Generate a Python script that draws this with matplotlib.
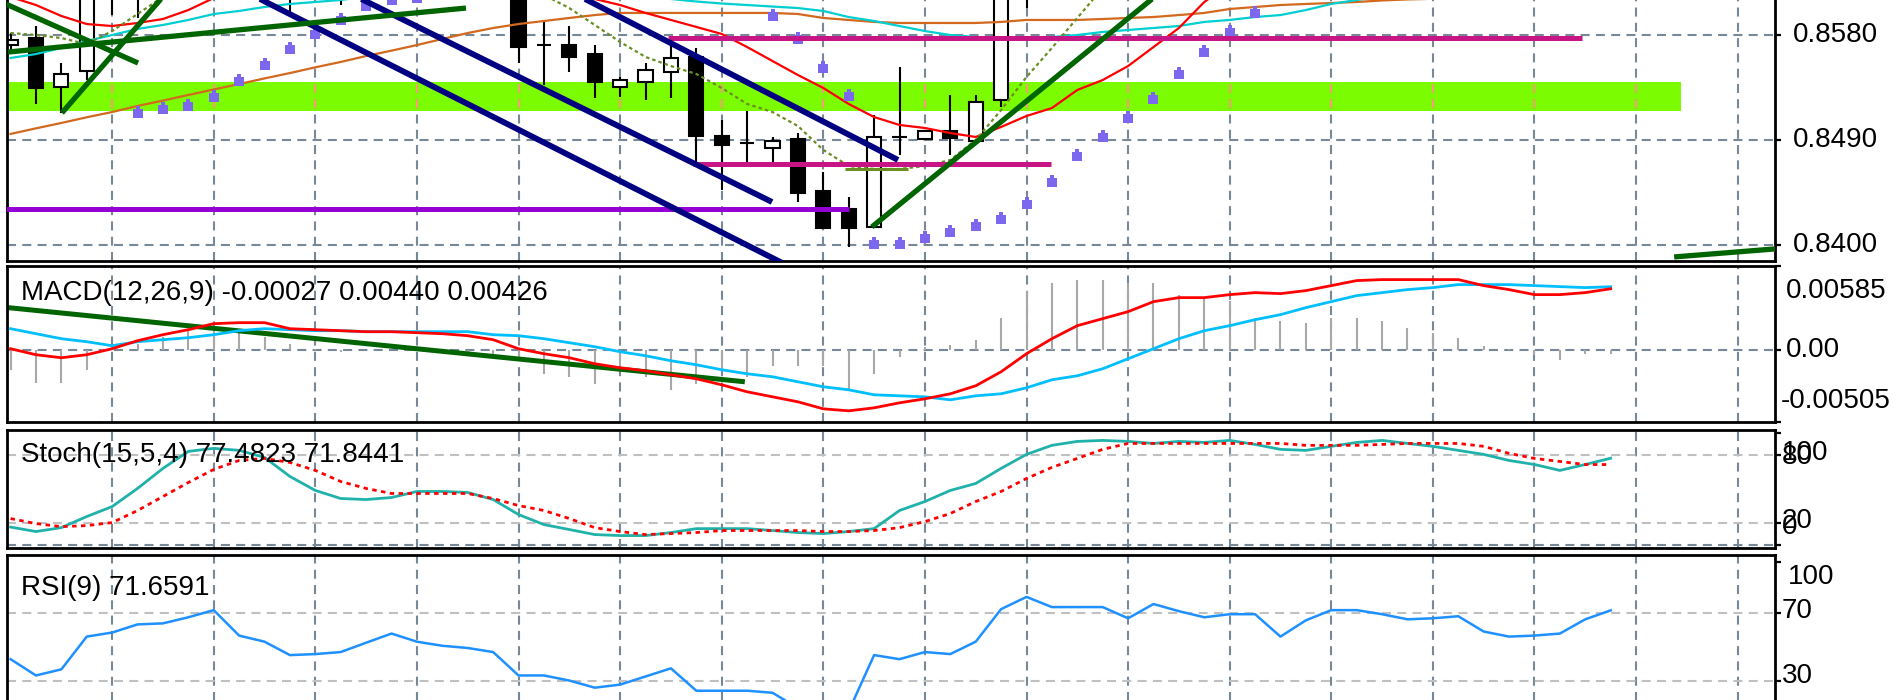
import numpy as np
import matplotlib
matplotlib.use("Agg")
import matplotlib.pyplot as plt
from matplotlib.patches import Rectangle
from matplotlib.path import Path

plt.rcParams['lines.scale_dashes'] = False
plt.rcParams['font.family'] = ['Liberation Sans', 'DejaVu Sans']

# ------------------------------------------------------------------ data
bar_index = list(range(64))

opens = [0.85714, 0.85774, 0.85354, 0.85492, 0.8628, 0.8638, 0.8645, 0.8652, 0.8660, 0.8655,
         0.8662, 0.8650, 0.8640, 0.8648, 0.8638, 0.8645, 0.8650, 0.8642, 0.8636, 0.8640,
         0.8630, 0.85714, 0.85714, 0.85637, 0.85354, 0.85397, 0.85483, 0.85612, 0.84935, 0.84875,
         0.84832, 0.84909, 0.84463, 0.84309, 0.84155, 0.84926, 0.84909, 0.84977, 0.84890, 0.85243,
         0.8628, 0.8640, 0.8652, 0.8660, 0.8668, 0.8672, 0.8680, 0.8688, 0.8692, 0.8700,
         0.8705, 0.8698, 0.8706, 0.8712, 0.8718, 0.8715, 0.8712, 0.8716, 0.8710, 0.8704,
         0.8700, 0.8702, 0.8698, 0.8706]
highs = [0.85817, 0.85877, 0.85560, 0.8635, 0.8648, 0.8655, 0.8660, 0.8668, 0.8672, 0.8675,
         0.8678, 0.8665, 0.8660, 0.8660, 0.8658, 0.8662, 0.8660, 0.8655, 0.8652, 0.8650,
         0.8640, 0.85929, 0.85877, 0.85714, 0.85440, 0.85560, 0.85714, 0.85689, 0.85072, 0.85149,
         0.84926, 0.84960, 0.84629, 0.84412, 0.85115, 0.85526, 0.84986, 0.85286, 0.85286, 0.8635,
         0.8650, 0.8660, 0.8666, 0.8674, 0.8678, 0.8686, 0.8694, 0.8698, 0.8706, 0.8711,
         0.8710, 0.8712, 0.8718, 0.8724, 0.8722, 0.8720, 0.8721, 0.8720, 0.8714, 0.8709,
         0.8707, 0.8706, 0.8711, 0.8717]
lows = [0.85672, 0.85209, 0.85132, 0.85414, 0.85971, 0.85946, 0.8625, 0.8635, 0.8640, 0.8638,
        0.8630, 0.85971, 0.8622, 0.86057, 0.8625, 0.8630, 0.8628, 0.8620, 0.8622, 0.8615,
        0.85560, 0.85372, 0.85483, 0.85260, 0.85269, 0.85243, 0.85260, 0.84703, 0.84472, 0.84703,
        0.84712, 0.84369, 0.84146, 0.83983, 0.84155, 0.84772, 0.84909, 0.84772, 0.84890, 0.85183,
        0.86031, 0.8625, 0.8645, 0.8652, 0.8660, 0.8665, 0.8672, 0.8680, 0.8685, 0.8692,
        0.8690, 0.8692, 0.8700, 0.8706, 0.8708, 0.8706, 0.8705, 0.8704, 0.8698, 0.8694,
        0.8693, 0.8691, 0.8692, 0.8700]
closes = [0.85757, 0.85346, 0.85466, 0.8628, 0.8638, 0.8645, 0.8652, 0.8660, 0.8655, 0.8662,
          0.8650, 0.8640, 0.8648, 0.8638, 0.8645, 0.8650, 0.8642, 0.8636, 0.8640, 0.8630,
          0.85697, 0.85714, 0.85612, 0.85397, 0.85414, 0.85500, 0.85603, 0.84935, 0.84857, 0.84875,
          0.84892, 0.84446, 0.84146, 0.84146, 0.84926, 0.84926, 0.84977, 0.84917, 0.85226, 0.8628,
          0.8640, 0.8652, 0.8660, 0.8668, 0.8672, 0.8680, 0.8688, 0.8692, 0.8700, 0.8705,
          0.8698, 0.8706, 0.8712, 0.8718, 0.8715, 0.8712, 0.8716, 0.8710, 0.8704, 0.8700,
          0.8702, 0.8698, 0.8706, 0.8712]

ma_red = [0.86126, 0.86057, 0.85963, 0.85894, 0.85877, 0.85903, 0.85937, 0.86014, 0.86117, 0.8620,
          0.8628, 0.8635, 0.8640, 0.8644, 0.8646, 0.8646, 0.8644, 0.8640, 0.8634, 0.8628,
          0.8622, 0.8617, 0.8613, 0.86109, 0.86057, 0.85989, 0.85929, 0.85869, 0.85809, 0.85697,
          0.85577, 0.85457, 0.85346, 0.85209, 0.85097, 0.85029, 0.85003, 0.84960, 0.84926, 0.85012,
          0.85106, 0.85174, 0.85329, 0.85414, 0.85534, 0.85697, 0.85860, 0.86083, 0.8624, 0.8638,
          0.8651, 0.8663, 0.8674, 0.8684, 0.8692, 0.8699, 0.8705, 0.8710, 0.8714, 0.8717,
          0.8719, 0.8720, 0.8721, 0.8722]
ma_cyan = [0.85603, 0.85637, 0.85689, 0.85749, 0.85800, 0.85852, 0.85886, 0.85929, 0.85980, 0.86006,
           0.86040, 0.86066, 0.86083, 0.86100, 0.8613, 0.8617, 0.8620, 0.8622, 0.8624, 0.8625,
           0.8625, 0.8624, 0.8622, 0.8620, 0.8617, 0.8614, 0.86109, 0.86087, 0.86070, 0.86057,
           0.86044, 0.86031, 0.86006, 0.85954, 0.85920, 0.85877, 0.85834, 0.85800, 0.85783, 0.85774,
           0.85774, 0.85783, 0.85800, 0.85826, 0.85843, 0.85860, 0.85877, 0.85912, 0.85929, 0.85954,
           0.85971, 0.86014, 0.86066, 0.86100, 0.8613, 0.8616, 0.8619, 0.8622, 0.8625, 0.8628,
           0.8630, 0.8632, 0.8634, 0.8636]
ma_orange = [0.84952, 0.85000, 0.85046, 0.85095, 0.85140, 0.85192, 0.85238, 0.85286, 0.85333, 0.85380,
             0.85428, 0.85474, 0.85523, 0.85569, 0.85620, 0.85666, 0.85714, 0.85766, 0.85817, 0.85860,
             0.85894, 0.85920, 0.85946, 0.85971, 0.85989, 0.85989, 0.85989, 0.85989, 0.85989, 0.85989,
             0.85989, 0.85980, 0.85946, 0.85929, 0.85912, 0.85903, 0.85903, 0.85903, 0.85903, 0.85912,
             0.85929, 0.85929, 0.85929, 0.85937, 0.85946, 0.85954, 0.85971, 0.85989, 0.86023, 0.86040,
             0.86057, 0.86066, 0.86074, 0.86083, 0.86096, 0.86105, 0.8611, 0.86115, 0.8612, 0.8613,
             0.8614, 0.8615, 0.8616, 0.8617]
ma_olive = [0.85817, 0.85800, 0.85774, 0.85723, 0.85834, 0.85980, 0.86126, 0.8625, 0.8635, 0.8642,
            0.8648, 0.8652, 0.8655, 0.8656, 0.8655, 0.8652, 0.8648, 0.8643, 0.8636, 0.8628,
            0.8620, 0.86143, 0.86031, 0.85886, 0.85740, 0.85612, 0.85534, 0.85466, 0.85346, 0.85209,
            0.85140, 0.85020, 0.84815, 0.84677, 0.84652, 0.84652, 0.84677, 0.84729, 0.84900, 0.85157,
            0.85440, 0.85689, 0.85946, 0.86203, 0.8645, 0.8665, 0.8680, 0.8690, 0.8697, 0.8702,
            0.8705, 0.8706, 0.8707, 0.8708, 0.8709, 0.8710, 0.8710, 0.8711, 0.8711, 0.8711,
            0.8712, 0.8712, 0.8712, 0.8712]
nan = float('nan')
sar = [nan, nan, nan, nan, nan, 0.85140, 0.85174, 0.85200, 0.85277, 0.85414,
       0.85552, 0.85689, 0.85817, 0.85937, 0.86057, 0.86109, 0.86126, nan, nan, nan,
       nan, nan, nan, nan, nan, nan, nan, nan, nan, nan,
       0.85971, 0.85774, 0.85526, 0.85286, 0.84018, 0.84018, 0.84069, 0.84120, 0.84172, 0.84232,
       0.84360, 0.84549, 0.84772, 0.84935, 0.85097, 0.85260, 0.85474, 0.85663, 0.85834, 0.85997,
       nan, nan, nan, nan, nan, nan, nan, nan, nan, nan,
       nan, nan, nan, nan]

macd_red = [0.00007, -0.00035, -0.00056, -0.00035, 0.00007, 0.00063, 0.00105, 0.00140, 0.00182, 0.00189,
            0.00189, 0.00147, 0.00140, 0.00133, 0.00126, 0.00126, 0.00119, 0.00112, 0.00098, 0.00070,
            0.00007, -0.00028, -0.00056, -0.00098, -0.00126, -0.00147, -0.00175, -0.00203, -0.00245, -0.00294,
            -0.00329, -0.00364, -0.00413, -0.00427, -0.00406, -0.00371, -0.00343, -0.00308, -0.00252, -0.00154,
            -0.00028, 0.00077, 0.00168, 0.00217, 0.00266, 0.00336, 0.00364, 0.00364, 0.00385, 0.00399,
            0.00392, 0.00413, 0.00448, 0.00483, 0.00490, 0.00490, 0.00490, 0.00490, 0.00448, 0.00420,
            0.00385, 0.00385, 0.00399, 0.00426]
macd_cyan = [0.00147, 0.00112, 0.00077, 0.00056, 0.00028, 0.00056, 0.00070, 0.00084, 0.00105, 0.00133,
             0.00147, 0.00140, 0.00133, 0.00133, 0.00126, 0.00126, 0.00126, 0.00126, 0.00126, 0.00105,
             0.00098, 0.00077, 0.00049, 0.00021, -0.00014, -0.00042, -0.00077, -0.00105, -0.00140, -0.00168,
             -0.00189, -0.00224, -0.00259, -0.00280, -0.00315, -0.00322, -0.00329, -0.00350, -0.00322, -0.00308,
             -0.00266, -0.00210, -0.00182, -0.00133, -0.00063, 0.00007, 0.00077, 0.00133, 0.00168, 0.00210,
             0.00245, 0.00294, 0.00336, 0.00378, 0.00399, 0.00420, 0.00434, 0.00455, 0.00455, 0.00455,
             0.00448, 0.00441, 0.00434, 0.00440]
macd_hist = [-0.00140, -0.00231, -0.00231, -0.00140, 0.00028, 0.00042, 0.00091, 0.00140, 0.00154, 0.00126,
             0.00091, 0.00042, 0.00007, -0.00014, 0.0, 0.0, 0.0, 0.0, -0.00014, -0.00028,
             -0.00077, -0.00168, -0.00189, -0.00238, -0.00119, -0.00189, -0.00280, -0.00238, -0.00140, -0.00189,
             -0.00112, -0.00112, -0.00112, -0.00280, -0.00168, -0.00049, 0.00021, 0.00035, 0.00070, 0.00224,
             0.00413, 0.00469, 0.00490, 0.00490, 0.00469, 0.00469, 0.00385, 0.00364, 0.00343, 0.00224,
             0.00203, 0.00189, 0.00224, 0.00224, 0.00203, 0.00154, 0.00119, 0.00084, 0.00028, 0.00004,
             -0.00035, -0.00070, -0.00028, -0.00027]

stoch_main = [16.0, 12.0, 15.5, 25.4, 34.3, 50.5, 68.4, 83.6, 86.3, 84.5,
              78.2, 61.2, 48.7, 41.5, 40.6, 42.4, 47.8, 47.8, 46.9, 40.6,
              27.2, 18.2, 13.8, 9.3, 8.4, 8.4, 11.1, 14.6, 14.6, 14.6,
              12.9, 11.1, 10.2, 12.0, 14.6, 30.8, 38.8, 48.7, 54.9, 68.4,
              80.9, 89.0, 92.5, 93.4, 92.5, 90.7, 92.5, 91.6, 93.4, 89.8,
              85.4, 84.5, 88.1, 91.6, 93.4, 90.7, 88.1, 84.5, 80.9, 75.5,
              71.9, 66.6, 71.9, 77.48]
stoch_signal = [23.6, 19.1, 16.4, 17.3, 20.0, 30.8, 43.3, 55.8, 67.5, 75.5,
                77.3, 73.7, 66.6, 56.7, 50.5, 46.0, 46.0, 46.0, 46.0, 41.5,
                35.2, 30.8, 23.6, 15.5, 12.0, 9.3, 10.2, 11.1, 12.9, 12.9,
                12.9, 12.9, 12.0, 12.0, 12.9, 15.5, 20.9, 28.1, 38.8, 47.8,
                59.4, 69.3, 77.3, 85.4, 90.7, 90.7, 90.7, 90.7, 90.7, 90.7,
                90.7, 89.0, 89.0, 89.0, 89.8, 90.7, 90.7, 90.7, 88.1, 81.8,
                77.3, 74.6, 71.84, 71.84]
rsi = [42.9, 33.3, 36.9, 56.2, 58.6, 63.4, 64.0, 67.6, 71.8, 56.8,
       53.2, 45.3, 45.9, 47.1, 52.6, 58.0, 53.2, 50.8, 49.5, 47.1,
       33.3, 33.3, 30.3, 26.1, 27.9, 32.7, 37.5, 24.3, 24.3, 24.3,
       23.1, 14.1, 9.9, 12.3, 45.3, 42.9, 47.1, 45.9, 53.2, 72.4,
       79.6, 73.6, 73.6, 73.6, 67.0, 75.4, 71.2, 67.6, 69.4, 69.4,
       56.2, 65.8, 71.8, 71.8, 69.4, 66.4, 67.0, 68.2, 59.2, 56.2,
       56.8, 58.0, 66.4, 71.66]

price_levels = [0.8580, 0.8490, 0.8400]
price_labels = ['0.8580', '0.8490', '0.8400']
macd_range = (-0.00505, 0.00585)
macd_labels = ['0.00585', '0.00', '-0.00505']
stoch_levels = [80, 20]
rsi_levels = [70, 30]

macd_title = 'MACD(12,26,9) -0.00027 0.00440 0.00426'
stoch_title = 'Stoch(15,5,4) 77.4823 71.8441'
rsi_title = 'RSI(9) 71.6591'

# chart objects: (bar, price) end points
band_low, band_high, band_end = 0.85149, 0.85397, 65.76
navy_lines = [((19.3, 0.8648), (34.94, 0.84729)),
              ((11.4, 0.86368), (29.98, 0.84369)),
              ((7.46, 0.86368), (31.08, 0.83770))]
green_lines = [((-1.2, 0.86164), (5.02, 0.85560)),
               ((2.02, 0.85132), (6.47, 0.86246)),
               ((-0.1, 0.85654), (17.93, 0.86031)),
               ((33.91, 0.84155), (46.83, 0.86443)),
               ((65.5, 0.83898), (70.0, 0.83976))]
magenta_lines = [(25.88, 61.87, 0.85777), (26.87, 40.96, 0.84695)]
purple_line = (-1.0, 33.0, 0.84309)
olive_line = (32.85, 35.33, 0.84652)
macd_trend = ((-0.2, 0.00296), (28.91, -0.00224))

# ------------------------------------------------------------------ figure
W, H = 1900, 700
fig = plt.figure(figsize=(19, 7), dpi=100)
fig.patch.set_facecolor('white')

XMIN, XMAX = -0.14, 69.47
GRID = '#778899'
DASH = (0, (6.5, 4.5))
FS = 20


def px_axes(top, bottom, left=7, right=1775):
    return fig.add_axes([left / W, 1 - bottom / H, (right - left) / W, (bottom - top) / H])


def label(x_px, y_px, s, **kw):
    fig.text(x_px / W, 1 - y_px / H, s, ha='left', va='center', fontsize=FS,
             color='black', **kw)


def base_style(ax):
    ax.set_xlim(XMIN, XMAX)
    ax.set_xticks([])
    ax.set_facecolor('white')
    for s in ax.spines.values():
        s.set_color('black')
        s.set_linewidth(2.0)
    ax.yaxis.tick_right()
    ax.tick_params(axis='y', direction='out', length=4, width=1.6, color='black',
                   labelright=False, labelleft=False, left=False, right=True)
    lines = []
    for gx in range(4, 69, 4):
        lines.append(ax.axvline(gx, color=GRID, lw=1.5, ls=DASH, zorder=1))
    return lines


x = np.array(bar_index, dtype=float)

# ---------------- main price panel
ax = px_axes(0, 260.5)
vgrid = base_style(ax)
ax.spines['top'].set_visible(False)
ax.set_ylim(0.838675, 0.8610)
ax.set_yticks(price_levels)
for lv in price_levels:
    ax.axhline(lv, color=GRID, lw=1.5, ls=DASH, zorder=1)

band = Rectangle((XMIN - 1, band_low), band_end - XMIN + 1, band_high - band_low,
                 facecolor='#7CFC00', edgecolor='none', zorder=0.5)
ax.add_patch(band)
clip_rect = Rectangle((XMIN - 1, band_low), band_end - XMIN + 1, band_high - band_low,
                      transform=ax.transData)
for gx in range(4, 69, 4):
    ln = ax.axvline(gx, color='#F4A070', lw=1.5, ls=DASH, zorder=1.1)
    ln.set_clip_path(clip_rect)

# moving averages
ax.plot(x, ma_orange, color='#D2691E', lw=1.6, zorder=3)
ax.plot(x, ma_cyan, color='#00CED1', lw=1.6, zorder=3)
ax.plot(x, ma_red, color='#FF0000', lw=1.6, zorder=3)
ax.plot(x, ma_olive, color='#6B8E23', lw=1.6, ls=(0, (2.5, 2.2)), zorder=3)

# candles
for i in bar_index:
    o, h, l, c = opens[i], highs[i], lows[i], closes[i]
    ax.plot([i, i], [l, h], color='black', lw=1.5, zorder=2, solid_capstyle='butt')
    bull = c >= o
    ax.add_patch(Rectangle((i - 0.28, min(o, c)), 0.56, abs(c - o),
                           facecolor='white' if bull else 'black',
                           edgecolor='black', lw=1.5, zorder=2.2))

# parabolic SAR
sar_marker = Path([(-0.8, -1), (0.8, -1), (0.8, 0.45), (0.3, 0.45), (0.3, 1),
                   (-0.3, 1), (-0.3, 0.45), (-0.8, 0.45), (-0.8, -1)],
                  [Path.MOVETO] + [Path.LINETO] * 7 + [Path.CLOSEPOLY])
ax.plot(x, sar, ls='none', marker=sar_marker, markersize=8.5, color='#7B68EE',
        markeredgewidth=0, zorder=3.5)

# objects
xs, xe, lv = purple_line
ax.plot([xs, xe], [lv, lv], color='#9400D3', lw=3.6, zorder=4, solid_capstyle='butt')
for xs, xe, lv in magenta_lines:
    ax.plot([xs, xe], [lv, lv], color='#C71585', lw=3.6, zorder=4, solid_capstyle='butt')
xs, xe, lv = olive_line
ax.plot([xs, xe], [lv, lv], color='#6B8E23', lw=2.2, zorder=4, solid_capstyle='butt')
for (x0, y0), (x1, y1) in navy_lines:
    ax.plot([x0, x1], [y0, y1], color='#000080', lw=4.2, zorder=4.2, solid_capstyle='butt')
for (x0, y0), (x1, y1) in green_lines:
    ax.plot([x0, x1], [y0, y1], color='#006400', lw=3.8, zorder=4.3, solid_capstyle='butt')

for s, yp in zip(price_labels, [35, 140, 245]):
    label(1793, yp, s)

# ---------------- MACD panel
axm = px_axes(266, 422)
base_style(axm)
axm.set_ylim(*macd_range)
axm.set_yticks([macd_range[1], 0.0, macd_range[0]])
axm.axhline(0.0, color=GRID, lw=1.5, ls=DASH, zorder=1)
axm.vlines(x, 0, macd_hist, color='#A8A8A8', lw=1.5, zorder=2)
(mx0, my0), (mx1, my1) = macd_trend
axm.plot([mx0, mx1], [my0, my1], color='#006400', lw=3.6, zorder=2.5, solid_capstyle='butt')
axm.plot(x, macd_cyan, color='#00BFFF', lw=2.0, zorder=3)
axm.plot(x, macd_red, color='#FF0000', lw=2.0, zorder=3.1)
axm.text(14 / 1768, 1 - (293 - 266) / 156, macd_title, transform=axm.transAxes,
         ha='left', va='center', fontsize=FS, zorder=6)
label(1786, 291, macd_labels[0])
label(1786, 350, macd_labels[1])
label(1781, 401, macd_labels[2])

# ---------------- Stochastic panel
axs = px_axes(430, 548)
base_style(axs)
axs.set_ylim(-2.7, 102.7)
axs.set_yticks([100, 80, 20, 0])
for lv in stoch_levels:
    axs.axhline(lv, color='#C0C0C0', lw=1.5, ls=DASH, zorder=1)
axs.axhline(0, color=GRID, lw=1.5, ls=DASH, zorder=1)
axs.plot(x, stoch_main, color='#20B2AA', lw=2.0, zorder=3)
axs.plot(x, stoch_signal, color='#FF0000', lw=2.0, ls=(0, (3.2, 3.2)), zorder=3.1)
axs.text(14 / 1768, 1 - (455 - 430) / 118, stoch_title, transform=axs.transAxes,
         ha='left', va='center', fontsize=FS, zorder=6)
label(1782, 457, '80')
label(1782, 453, '100')
label(1782, 521, '20')
label(1782, 527, '0')

# ---------------- RSI panel
axr = px_axes(555, 703)
base_style(axr)
axr.spines['bottom'].set_visible(False)
axr.set_ylim(17.07, 104.3)
axr.set_yticks([100, 70, 30])
for lv in rsi_levels:
    axr.axhline(lv, color='#C0C0C0', lw=1.5, ls=DASH, zorder=1)
axr.plot(x, rsi, color='#1E90FF', lw=1.8, zorder=3)
axr.text(14 / 1768, 1 - (588 - 555) / 148, rsi_title, transform=axr.transAxes,
         ha='left', va='center', fontsize=FS, zorder=6)
label(1788, 577, '100')
label(1782, 611, '70')
label(1782, 676, '30')

fig.savefig('out.png', dpi=100, facecolor='white')
